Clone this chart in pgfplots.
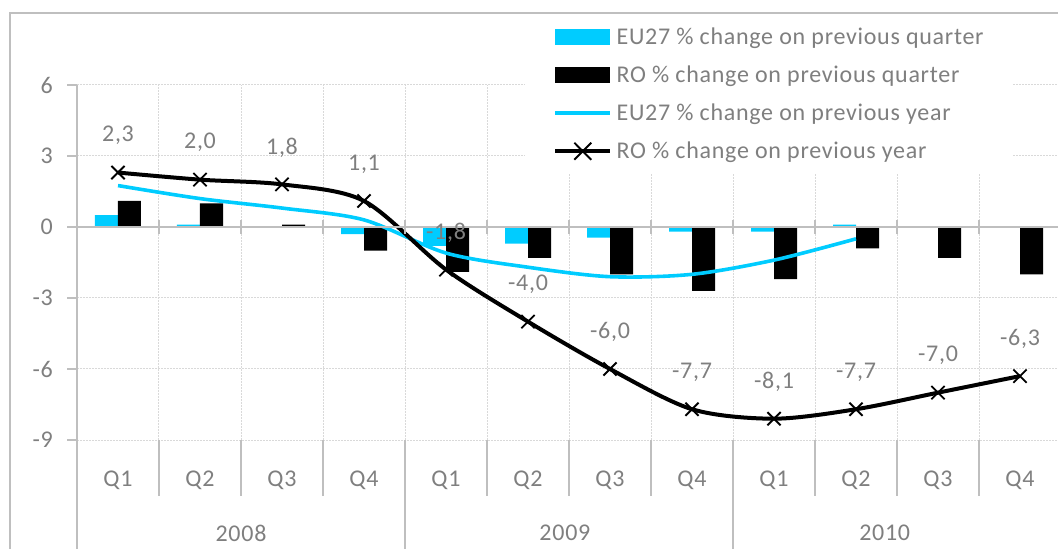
\documentclass[border=0pt]{standalone}
\usepackage{fontspec}
\setmainfont{Carlito}[LetterSpace=3]
\usepackage{pgfplots}
\usepackage{pgfplotstable}
\pgfplotsset{compat=1.18}

\definecolor{eucyan}{HTML}{00CCFF}
\definecolor{txtgray}{HTML}{7F7F7F}
\definecolor{axgray}{HTML}{BFBFBF}
\definecolor{gridgray}{HTML}{D9D9D9}
\newcommand{\cf}{\fontsize{18pt}{21pt}\selectfont}

% quarter-on-quarter change (bars)
\pgfplotstableread{
x y
0.5 0.5
1.5 0.1
2.5 0.02
3.5 -0.3
4.5 -0.8
5.5 -0.7
6.5 -0.45
7.5 -0.2
8.5 -0.2
9.5 0.1
}\euqoq
\pgfplotstableread{
x y
0.5 1.1
1.5 1.0
2.5 0.1
3.5 -1.0
4.5 -1.9
5.5 -1.3
6.5 -2.0
7.5 -2.7
8.5 -2.2
9.5 -0.9
10.5 -1.3
11.5 -2.0
}\roqoq
% year-on-year change (lines)
\pgfplotstableread{
x y
0.5 1.75
1.5 1.2
2.5 0.8
3.5 0.3
4.5 -1.1
5.5 -1.7
6.5 -2.1
7.5 -2.0
8.5 -1.4
9.5 -0.5
}\euyoy
\pgfplotstableread{
x y lab
0.5 2.3 2,3
1.5 2.0 2,0
2.5 1.8 1,8
3.5 1.1 1,1
4.5 -1.8 -1,8
5.5 -4.0 -4,0
6.5 -6.0 -6,0
7.5 -7.7 -7,7
8.5 -8.1 -8,1
9.5 -7.7 -7,7
10.5 -7.0 -7,0
11.5 -6.3 -6,3
}\royoy

\begin{document}
\begin{tikzpicture}
\clip (0pt,0pt) rectangle (793.5pt,-411.75pt);
% chart frame
\draw[axgray, line width=1.5pt] (7.5pt,-420pt) |- (800pt,-9.75pt);

\begin{axis}[
    at={(57.75pt,-330pt)}, anchor=south west,
    scale only axis, width=738pt, height=266.25pt,
    xmin=0, xmax=12, ymin=-9, ymax=6,
    clip=false,
    axis line style={draw=none},
    tick style={draw=none},
    xtick={0,...,11},
    xticklabels={Q1,Q2,Q3,Q4,Q1,Q2,Q3,Q4,Q1,Q2,Q3,Q4},
    xticklabel style={anchor=center, xshift=30.75pt, yshift=-30pt},
    ytick={-9,-6,-3,0,3,6},
    yticklabels={-9\hspace*{18pt},-6\hspace*{18pt},-3\hspace*{18pt},0\hspace*{18pt},3\hspace*{18pt},6\hspace*{18pt}},
    yticklabel style={anchor=east, inner sep=0pt},
    tick label style={font=\cf, text=txtgray},
    xmajorgrids, ymajorgrids,
    major grid style={draw=gridgray, line width=0.75pt, dash pattern=on 1.5pt off 0.75pt},
    legend cell align=left,
    legend style={
        at={(rel axis cs:0.4553,1.1972)}, anchor=north west,
        draw=none, fill=white, font=\cf, text=txtgray,
        inner xsep=21pt, inner ysep=9pt, row sep=13.5pt,
        nodes={inner sep=0pt, text height=13pt, text depth=2pt},
    },
]

\addplot[ybar, bar width=17.25pt, bar shift=-8.625pt, fill=eucyan, draw=none,
    legend image code/.code={\fill[eucyan] (0pt,-6pt) rectangle (41.25pt,6pt); \path (44.5pt,0pt);}]
    table[x=x, y=y] {\euqoq};
\addlegendentry{EU27 \% change on previous quarter}

\addplot[ybar, bar width=17.25pt, bar shift=8.625pt, fill=black, draw=none,
    legend image code/.code={\fill[black] (0pt,-6pt) rectangle (41.25pt,6pt); \path (44.5pt,0pt);}]
    table[x=x, y=y] {\roqoq};
\addlegendentry{RO \% change on previous quarter}

\addplot[eucyan, line width=2.7pt, smooth, no markers,
    legend image code/.code={\draw[eucyan, line width=2.7pt] (0pt,0pt) -- (41.25pt,0pt); \path (44.5pt,0pt);}]
    table[x=x, y=y] {\euyoy};
\addlegendentry{EU27 \% change on previous year}

\addplot[black, line width=3pt, smooth, mark=x, mark size=7pt,
    mark options={line width=1.4pt},
    nodes near coords, point meta=explicit symbolic,
    every node near coord/.append style={anchor=center, yshift=27.75pt, font=\cf, text=txtgray},
    legend image code/.code={\draw[black, line width=3pt] (0pt,0pt) -- (41.25pt,0pt);
        \draw[black, line width=1.4pt] (14.25pt,-6.4pt) -- (27pt,6.4pt) (14.25pt,6.4pt) -- (27pt,-6.4pt);
        \path (44.5pt,0pt);}]
    table[x=x, y=y, meta=lab] {\royoy};
\addlegendentry{RO \% change on previous year}

% horizontal axis at zero with crossing ticks
\draw[axgray, line width=1.5pt] (axis cs:0,0) -- (axis cs:12,0);
\pgfplotsinvokeforeach{1,...,11}{
    \draw[axgray, line width=1.5pt] ([yshift=5.5pt]axis cs:#1,0) -- ([yshift=-5.5pt]axis cs:#1,0);
}
% vertical axis
\draw[axgray, line width=1.5pt] (axis cs:0,6) -- (axis cs:0,-9) -- ++(0pt,-100pt);
\pgfplotsinvokeforeach{-9,-6,-3,0,3,6}{
    \draw[axgray, line width=1.5pt] (axis cs:0,#1) -- ++(-7.5pt,0pt);
}
% category separators
\pgfplotsinvokeforeach{1,2,3,5,6,7,9,10,11}{
    \draw[axgray, line width=1.5pt] (axis cs:#1,-9) -- ++(0pt,-42pt);
}
\pgfplotsinvokeforeach{4,8,12}{
    \draw[axgray, line width=1.5pt] (axis cs:#1,-9) -- ++(0pt,-100pt);
}
% year labels
\node[font=\cf, text=txtgray, anchor=center] at ([yshift=-69.75pt]axis cs:2,-9) {2008};
\node[font=\cf, text=txtgray, anchor=center] at ([yshift=-69.75pt]axis cs:5.95,-9) {2009};
\node[font=\cf, text=txtgray, anchor=center] at ([yshift=-69.75pt]axis cs:9.85,-9) {2010};
\end{axis}
\end{tikzpicture}
\end{document}
